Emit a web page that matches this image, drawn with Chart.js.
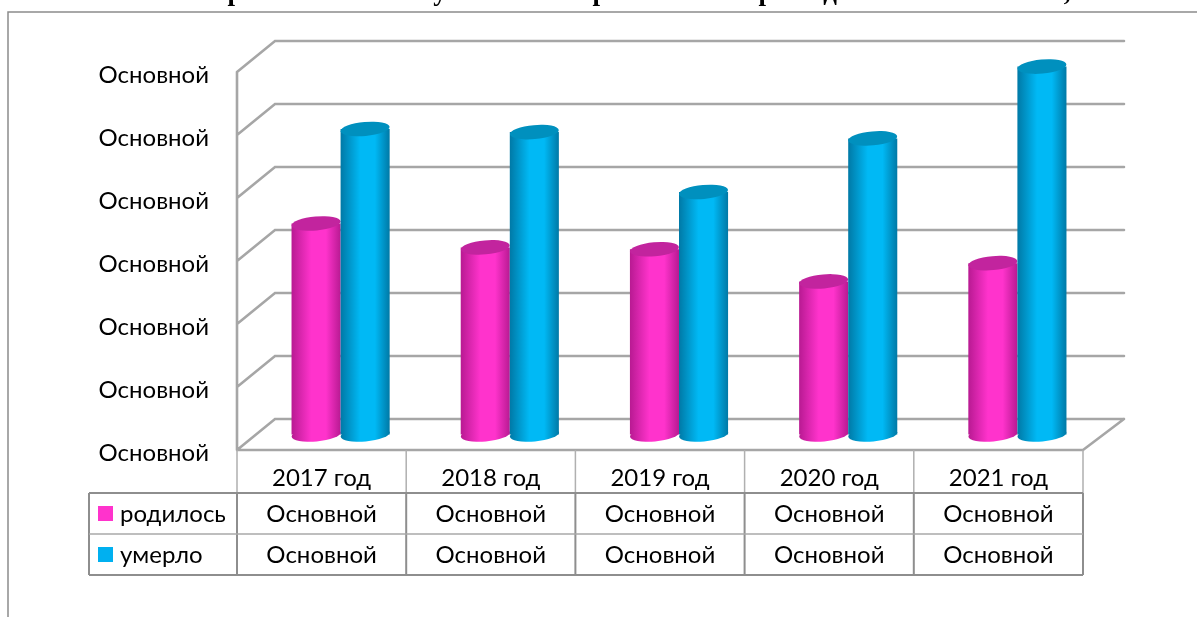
<!DOCTYPE html>
<html lang="ru"><head><meta charset="utf-8">
<style>html,body{margin:0;padding:0;background:#fff;overflow:hidden}#w{position:relative;width:1197px;height:617px}canvas{display:block;filter:blur(.5px)}</style>
<script src="https://cdn.jsdelivr.net/npm/chart.js@4"></script>
</head><body><div id="w"><canvas id="c" width="1197" height="617"></canvas></div>
<script>
const categories = ['2017 год','2018 год','2019 год','2020 год','2021 год'];
const born = [3.35,2.97,2.94,2.43,2.72];
const died = [4.85,4.80,3.85,4.70,5.84];
const seriesNames = ['родилось','умерло'];
const yTickLabels = ['Основной','Основной','Основной','Основной','Основной','Основной','Основной'];
const tableCell = 'Основной';
const titleFragments = [['р',235],['у',440],['р',600],['р',766],['д',830],[',',1067]];
const FONT = 'Lato, "Open Sans"';
const FS = 24;
const G = '#a6a6a6';

const DX = 38, DY = 31;            // depth of the 3D box
const hexes = {0:['#B81A92','#FF33CC','#C2249E'],1:['#0079A6','#00B9F5','#0090BE']};
function grad(ctx,x0,x1,c){
  const g = ctx.createLinearGradient(x0,0,x1,0);
  g.addColorStop(0,c[0]);g.addColorStop(.4,c[1]);g.addColorStop(.7,c[1]);g.addColorStop(1,c[0]);
  return g;
}
function barFill(c){
  const chart=c.chart, x=chart.scales.x;
  const flat=hexes[c.datasetIndex][1];
  if(!x||c.dataIndex===undefined) return flat;
  const step=x.width/categories.length, w=step*.58/2, m=x.getPixelForTick(c.dataIndex);
  if(!isFinite(m)||!isFinite(w)) return flat;
  const l=c.datasetIndex===0?m-w:m;
  return grad(chart.ctx,l,l+w,hexes[c.datasetIndex]);
}
const box3d = {
  id:'box3d',
  beforeDatasetsDraw(chart){
    const {ctx,scales:{x,y},chartArea:a}=chart;
    ctx.save();
    // frame and clipped title
    ctx.strokeStyle='#8c8c8c';ctx.lineWidth=1.5;
    ctx.beginPath();ctx.moveTo(8,617);ctx.lineTo(8,12);ctx.lineTo(1197,12);ctx.stroke();
    ctx.save();ctx.beginPath();ctx.rect(0,0,1197,11);ctx.clip();
    ctx.fillStyle='#000';ctx.font='bold 27px "Liberation Serif"';ctx.textAlign='center';ctx.textBaseline='alphabetic';
    titleFragments.forEach(([t,px])=>ctx.fillText(t,px,-.5));
    ctx.restore();
    // walls
    ctx.strokeStyle=G;ctx.lineWidth=2.6;ctx.lineCap='round';
    ctx.beginPath();
    y.ticks.forEach((t,i)=>{
      const py=y.getPixelForTick(i);
      ctx.moveTo(a.left,py);ctx.lineTo(a.left+DX,py-DY);ctx.lineTo(a.right+DX+3,py-DY);
    });
    ctx.moveTo(a.left,a.top);ctx.lineTo(a.left,a.bottom);
    ctx.moveTo(a.left,a.bottom);ctx.lineTo(a.right,a.bottom);ctx.lineTo(a.right+DX+3,a.bottom-DY);
    ctx.stroke();
    // cylinders: the library draws the body, caps follow on the same scale positions
    ctx.translate(DX/2,-DY/2);
    [0,1].forEach(di=>{
      const meta=chart.getDatasetMeta(di);
      meta.data.forEach(el=>{
        const w=el.width/2;
        ctx.fillStyle=grad(ctx,el.x-w,el.x+w,hexes[di]);
        ctx.beginPath();ctx.ellipse(el.x,el.base,w,7,-.09,0,Math.PI*2);ctx.fill();
      });
      meta.controller.draw();
      meta.data.forEach(el=>{
        const w=el.width/2;
        ctx.fillStyle=hexes[di][2];
        ctx.beginPath();ctx.ellipse(el.x,el.y,w,7,-.09,0,Math.PI*2);ctx.fill();
      });
    });
    ctx.restore();
    return false;
  },
  afterDraw(chart){
    const {ctx,scales:{x},chartArea:a}=chart;
    const rows=[493,534,575], L=89, n=categories.length, step=x.width/n;
    ctx.save();
    ctx.lineCap='butt';
    // category column separators
    ctx.strokeStyle='#b0b0b0';ctx.lineWidth=1.5;
    ctx.beginPath();
    for(let i=0;i<=n;i++){const px=a.left+i*step;ctx.moveTo(px,a.bottom);ctx.lineTo(px,rows[0]);}
    ctx.stroke();
    // body lines
    ctx.strokeStyle='#8e8e8e';ctx.lineWidth=2;
    ctx.beginPath();
    ctx.moveTo(L,rows[0]);ctx.lineTo(a.right,rows[0]);
    ctx.moveTo(L,rows[2]);ctx.lineTo(a.right,rows[2]);
    ctx.moveTo(L,rows[0]);ctx.lineTo(L,rows[2]);
    for(let i=0;i<=n;i++){const px=a.left+i*step;ctx.moveTo(px,rows[0]);ctx.lineTo(px,rows[2]);}
    ctx.stroke();
    ctx.strokeStyle='#a8a8a8';ctx.lineWidth=1.5;
    ctx.beginPath();ctx.moveTo(L,rows[1]);ctx.lineTo(a.right,rows[1]);ctx.stroke();
    // text
    ctx.fillStyle='#000';ctx.font=FS+'px '+FONT;ctx.textBaseline='middle';
    [514,555].forEach((cy,r)=>{
      ctx.textAlign='center';
      categories.forEach((_,i)=>ctx.fillText(tableCell,x.getPixelForTick(i),cy));
      ctx.textAlign='left';
      ctx.fillText(seriesNames[r],120,cy);
      ctx.fillStyle=r===0?'#FF33CC':'#00B0F0';
      ctx.fillRect(98,r===0?506:547,15,15);
      ctx.fillStyle='#000';
    });
    ctx.restore();
  }
};
new Chart(document.getElementById('c'),{
  type:'bar',
  data:{labels:categories,datasets:[
    {label:seriesNames[0],data:born,backgroundColor:barFill,borderWidth:0},
    {label:seriesNames[1],data:died,backgroundColor:barFill,borderWidth:0}
  ]},
  plugins:[box3d],
  options:{
    responsive:false,animation:false,
    layout:{padding:{left:0,top:72,right:114,bottom:0}},
    datasets:{bar:{categoryPercentage:.58,barPercentage:1}},
    plugins:{legend:{display:false},tooltip:{enabled:false},title:{display:false}},
    scales:{
      x:{
        grid:{display:false,drawTicks:false},border:{display:false},
        ticks:{font:{family:FONT,size:FS},color:'#000',padding:14,maxRotation:0},
        afterFit(s){s.height=167;}
      },
      y:{
        min:0,max:6,
        grid:{display:false,drawTicks:false},border:{display:false},
        ticks:{stepSize:1,font:{family:FONT,size:FS},color:'#000',padding:28,labelOffset:3,
          callback:(v)=>yTickLabels[v]},
        afterFit(s){s.width=237;}
      }
    }
  }
});
</script></body></html>
